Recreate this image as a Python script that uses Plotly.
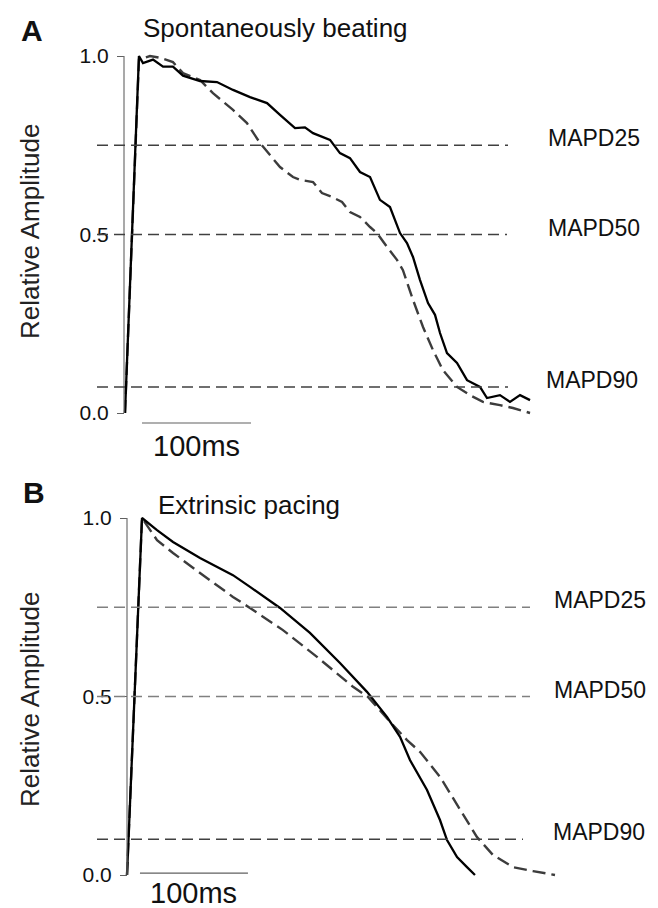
import plotly.graph_objects as go

# ---------------- data ----------------
# Panel A: spontaneously beating (time in ms, relative amplitude)
a_solid_t = [0, 12.8, 16.5, 25.7, 34.9, 44.0, 53.2, 68.8, 84.4, 99.1, 114.7, 130.3, 142.2, 156.0,
             165.1, 172.5, 188.1, 197.2, 206.4, 215.6, 224.8, 233.9, 243.1, 252.3, 258.7, 264.2,
             270.6, 278.0, 284.4, 289.0, 295.4, 304.6, 313.8, 319.3, 325.7, 332.1, 344.0, 353.2,
             362.4, 371.6]
a_solid_v = [0, 1.0, 0.98, 0.99, 0.97, 0.97, 0.945, 0.93, 0.927, 0.905, 0.885, 0.868, 0.835, 0.798,
             0.80, 0.784, 0.765, 0.728, 0.714, 0.675, 0.661, 0.597, 0.577, 0.504, 0.476, 0.437,
             0.373, 0.308, 0.275, 0.224, 0.168, 0.14, 0.092, 0.084, 0.073, 0.042, 0.05, 0.031,
             0.05, 0.036]
a_dash_t = [0, 12.8, 22.9, 32.1, 44.0, 53.2, 68.8, 80.7, 99.1, 111.9, 123.9, 142.2, 154.1, 160.6,
            172.5, 180.7, 189.9, 199.1, 206.4, 215.6, 224.8, 231.2, 240.4, 249.5, 255.0, 264.2,
            273.4, 282.6, 291.7, 304.6, 316.5, 328.4, 344.0, 355.9, 371.6]
a_dash_v = [0, 0.99, 1.0, 0.995, 0.983, 0.952, 0.933, 0.896, 0.849, 0.812, 0.756, 0.689, 0.661, 0.653,
            0.647, 0.616, 0.605, 0.591, 0.563, 0.549, 0.521, 0.504, 0.465, 0.429, 0.40, 0.317,
            0.241, 0.176, 0.12, 0.073, 0.05, 0.031, 0.022, 0.014, 0.0]

# Panel B: extrinsic pacing
b_solid_t = [0, 13.9, 27.8, 42.6, 67.6, 98.1, 113.9, 141.7, 169.4, 197.2, 222.2, 240.7, 252.8,
             262.0, 277.8, 289.8, 296.3, 305.6, 314.8, 322.2]
b_solid_v = [0, 1.0, 0.966, 0.933, 0.888, 0.84, 0.807, 0.748, 0.678, 0.594, 0.513, 0.443, 0.387,
             0.322, 0.238, 0.154, 0.098, 0.05, 0.022, 0.0]
b_dash_t = [0, 13.9, 27.8, 42.6, 67.6, 98.1, 113.9, 144.4, 175.9, 209.3, 223.1, 243.5, 259.3,
            271.3, 289.8, 308.3, 324.1, 338.9, 357.4, 375.9, 396.3]
b_dash_v = [0, 1.0, 0.938, 0.902, 0.846, 0.779, 0.748, 0.686, 0.611, 0.527, 0.499, 0.429, 0.378,
            0.345, 0.275, 0.182, 0.106, 0.056, 0.022, 0.011, 0.0]

# threshold levels and labels
a_levels = [0.75, 0.5, 0.073]
b_levels = [0.75, 0.5, 0.10]
level_labels = ["MAPD25", "MAPD50", "MAPD90"]

# tick labels
tick_vals = [0.0, 0.5, 1.0]
tick_text = ["0.0", "0.5", "1.0"]

scale_ms = 100
scale_label = "100ms"

# ---------------- layout geometry (pixels) ----------------
W, H = 658, 908
FONT = "Liberation Sans, Arial, sans-serif"


def fx(p):
    return p / W


def fy(p):
    return 1 - p / H


# panel mapping: pixel_x = X0 + ms*K, pixel_y = Y0 - v*AMP
A = dict(X0=125, K=1.09, Y0=413, AMP=357, top=40, bot=452, axis_px=124,
         line_x=(97, 508), lab_x=[546, 546, 544], scale_start=15.6, scale_v=-0.028,
         scale_lab_y=446, title="Spontaneously beating", title_x=141, title_y=28,
         letter="A", letter_x=19, letter_y=31, ytitle_y=232,
         lev_colors=["#404040", "#404040", "#404040"], lev_ends=[508, 507, 508])
B = dict(X0=127, K=1.08, Y0=875, AMP=357, top=470, bot=906, axis_px=127,
         line_x=(97, 530), lab_x=[552, 552, 551], scale_start=12.0, scale_v=0.005,
         scale_lab_y=893, title="Extrinsic pacing", title_x=156, title_y=505,
         letter="B", letter_x=21, letter_y=492, ytitle_y=700,
         lev_colors=["#808080", "#808080", "#404040"], lev_ends=[530, 530, 523])

fig = go.Figure()

panels = [
    (A, "x", "y", a_solid_t, a_solid_v, a_dash_t, a_dash_v, a_levels),
    (B, "x2", "y2", b_solid_t, b_solid_v, b_dash_t, b_dash_v, b_levels),
]

shapes = []
annotations = []
for P, xr, yr, st, sv, dt, dv, levels in panels:
    fig.add_trace(go.Scatter(x=dt, y=dv, mode="lines", xaxis=xr, yaxis=yr,
                             line=dict(color="#3c3c3c", width=2.4, dash="13px,6px"),
                             showlegend=False, hoverinfo="skip"))
    fig.add_trace(go.Scatter(x=st, y=sv, mode="lines", xaxis=xr, yaxis=yr,
                             line=dict(color="#000000", width=2.3),
                             showlegend=False, hoverinfo="skip"))
    # y axis line from 0 to 1
    shapes.append(dict(type="line", xref="paper", yref=yr,
                       x0=fx(P["axis_px"]), x1=fx(P["axis_px"]), y0=0, y1=1,
                       line=dict(color="#707070", width=1.2)))
    # threshold lines
    for lv, col, end in zip(levels, P["lev_colors"], P["lev_ends"]):
        shapes.append(dict(type="line", xref="paper", yref=yr,
                           x0=fx(P["line_x"][0]), x1=fx(end), y0=lv, y1=lv,
                           line=dict(color=col, width=1.4, dash="11px,6px")))
    for lv, lab, lx in zip(levels, level_labels, P["lab_x"]):
        annotations.append(dict(text=lab, xref="paper", yref=yr, x=fx(lx), y=lv,
                                xanchor="left", yanchor="middle", yshift=7, showarrow=False,
                                font=dict(family=FONT, size=23, color="#111111")))
    # scale bar
    shapes.append(dict(type="line", xref=xr, yref=yr,
                       x0=P["scale_start"], x1=P["scale_start"] + scale_ms,
                       y0=P["scale_v"], y1=P["scale_v"],
                       line=dict(color="#606060", width=1.2)))
    annotations.append(dict(text=scale_label, xref=xr, yref="paper",
                            x=P["scale_start"] + scale_ms / 2, y=fy(P["scale_lab_y"]),
                            xanchor="center", yanchor="middle", showarrow=False,
                            font=dict(family=FONT, size=29, color="#111111")))
    # titles
    annotations.append(dict(text=P["title"], xref="paper", yref="paper",
                            x=fx(P["title_x"]), y=fy(P["title_y"]), xanchor="left",
                            yanchor="middle", showarrow=False,
                            font=dict(family=FONT, size=26, color="#111111")))
    annotations.append(dict(text="<b>%s</b>" % P["letter"], xref="paper", yref="paper",
                            x=fx(P["letter_x"]), y=fy(P["letter_y"]), xanchor="left",
                            yanchor="middle", showarrow=False,
                            font=dict(family=FONT, size=30, color="#111111")))
    annotations.append(dict(text="Relative Amplitude", xref="paper", yref="paper",
                            x=fx(30), y=fy(P["ytitle_y"]), xanchor="center",
                            yanchor="middle", textangle=-90, showarrow=False,
                            font=dict(family=FONT, size=26, color="#222222")))


def xaxis_cfg(P, anchor):
    return dict(domain=[0, 1], range=[-P["X0"] / P["K"], (W - P["X0"]) / P["K"]],
                visible=False, showgrid=False, zeroline=False, anchor=anchor, fixedrange=True)


def yaxis_cfg(P):
    return dict(domain=[fy(P["bot"]), fy(P["top"])],
                range=[(P["Y0"] - P["bot"]) / P["AMP"], (P["Y0"] - P["top"]) / P["AMP"]],
                anchor="free", position=fx(P["axis_px"]), showgrid=False, zeroline=False,
                showline=False, ticks="outside", ticklen=7, tickwidth=1.2, tickcolor="#606060",
                tickvals=tick_vals, ticktext=tick_text, ticklabelstandoff=4,
                tickfont=dict(family=FONT, size=21, color="#111111"), fixedrange=True)


fig.update_layout(
    width=W, height=H, margin=dict(l=0, r=0, t=0, b=0),
    paper_bgcolor="white", plot_bgcolor="white",
    xaxis=xaxis_cfg(A, "y"), xaxis2=xaxis_cfg(B, "y2"),
    yaxis=yaxis_cfg(A), yaxis2=yaxis_cfg(B),
    shapes=shapes, annotations=annotations, showlegend=False,
)

# remove the default page margin so the 658x908 figure fills the window exactly
fig.write_html("out.html", config={"displayModeBar": False},
               post_script="document.body.style.margin='0px';document.body.style.overflow='hidden';")
